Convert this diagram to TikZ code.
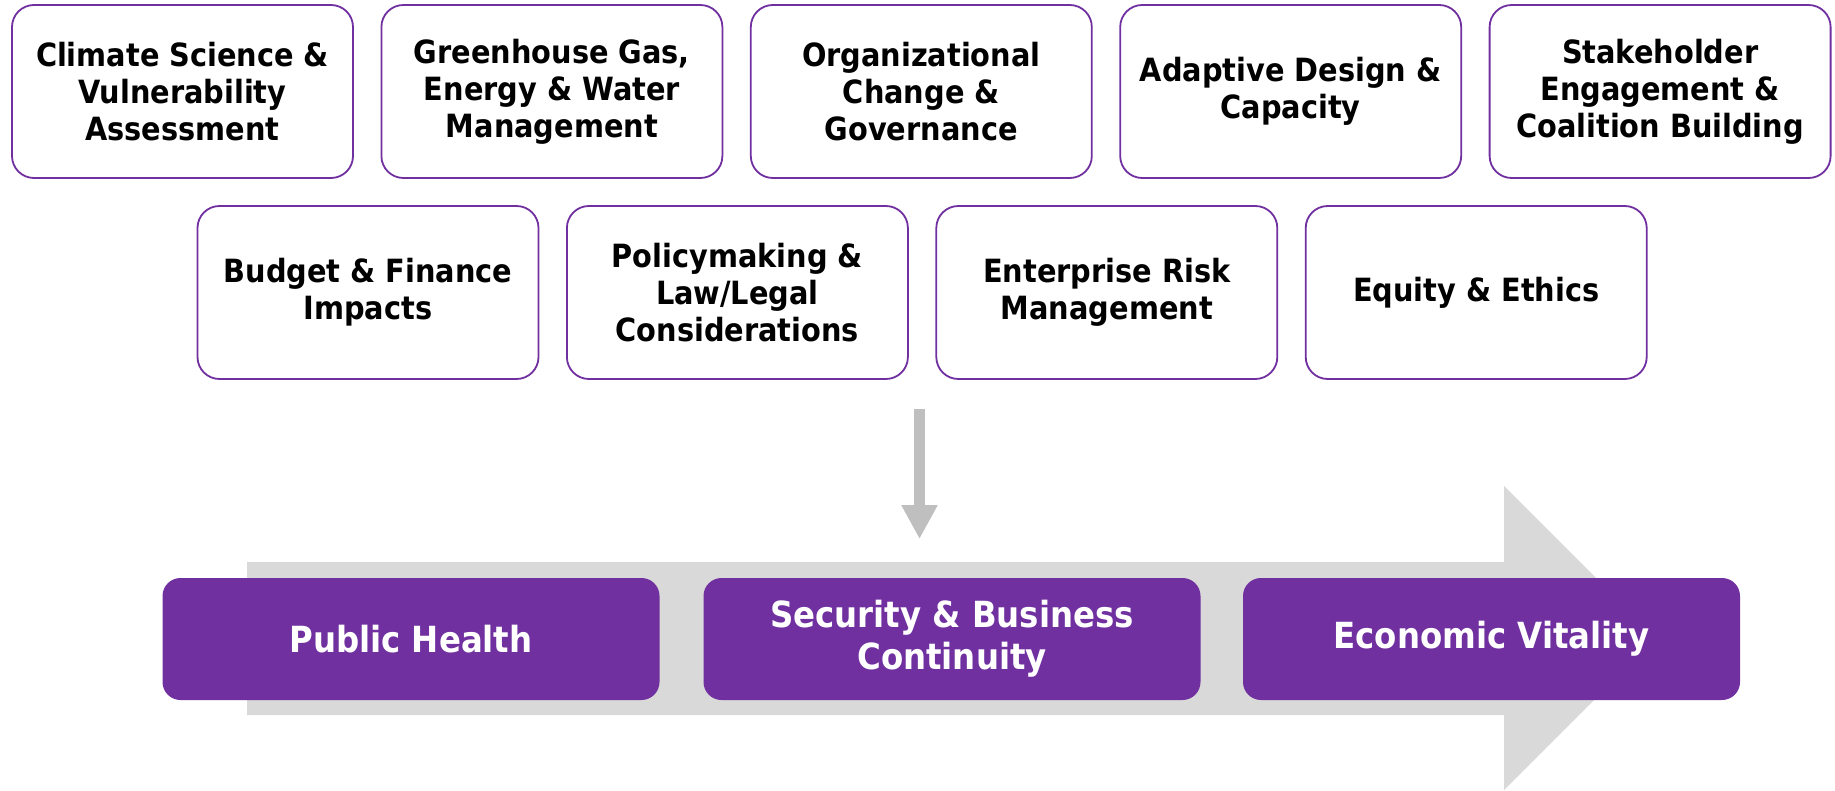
\documentclass[tikz,border=0pt]{standalone}
\usepackage{fontspec}
\setmainfont{DejaVu Sans Condensed}
\usetikzlibrary{arrows.meta}
\definecolor{vpurple}{HTML}{7030A0}
\definecolor{lgray}{HTML}{D9D9D9}
\definecolor{mgray}{HTML}{BFBFBF}
\tikzset{
  topic/.style={draw=vpurple, line width=1.8pt, fill=white, rounded corners=22pt,
    minimum width=341pt, minimum height=173pt, align=center, inner sep=0pt,
    font=\fontsize{32}{37}\selectfont\bfseries},
  sector/.style={fill=vpurple, rounded corners=18pt, minimum width=497pt,
    minimum height=122pt, align=center, inner sep=0pt, text=white,
    font=\fontsize{36}{42}\selectfont\bfseries},
  flow/.style={draw=mgray, line width=11.5pt, -{Triangle[width=34pt,length=34pt]}}
}
\begin{document}
\begin{tikzpicture}[x=1pt,y=-1pt]
\useasboundingbox (0,0) rectangle (1835,791);
% big background arrow
\fill[lgray] (247,562) -- (1504,562) -- (1504,486) -- (1656,638) -- (1504,790) -- (1504,715) -- (247,715) -- cycle;
% top row
\node[topic] (t1) at (182.5,91.5) {Climate Science \&\\Vulnerability\\Assessment};
\node[topic] (t2) at (551.9,91.5) {Greenhouse Gas,\\Energy \& Water\\Management};
\node[topic] (t3) at (921.3,91.5) {Organizational\\Change \&\\Governance};
\node[topic] (t4) at (1290.7,91.5) {Adaptive Design \&\\Capacity};
\node[topic] (t5) at (1660.1,91.5) {Stakeholder\\Engagement \&\\Coalition Building};
% second row
\node[topic] (t6) at (368,292.5) {Budget \& Finance\\Impacts};
\node[topic] (t7) at (737.4,292.5) {Policymaking \&\\Law/Legal\\Considerations};
\node[topic] (t8) at (1106.8,292.5) {Enterprise Risk\\Management};
\node[topic] (t9) at (1476.2,292.5) {Equity \& Ethics};
% down arrow
\coordinate (afrom) at (919.5,409);
\coordinate (ato) at (919.5,539);
\draw[flow] (afrom) -- (ato);
% sectors
\node[sector] (s1) at (411,639) {Public Health};
\node[sector] (s2) at (952,639) {Security \& Business\\Continuity};
\node[sector] (s3) at (1491.5,639) {Economic Vitality};
\end{tikzpicture}
\end{document}
